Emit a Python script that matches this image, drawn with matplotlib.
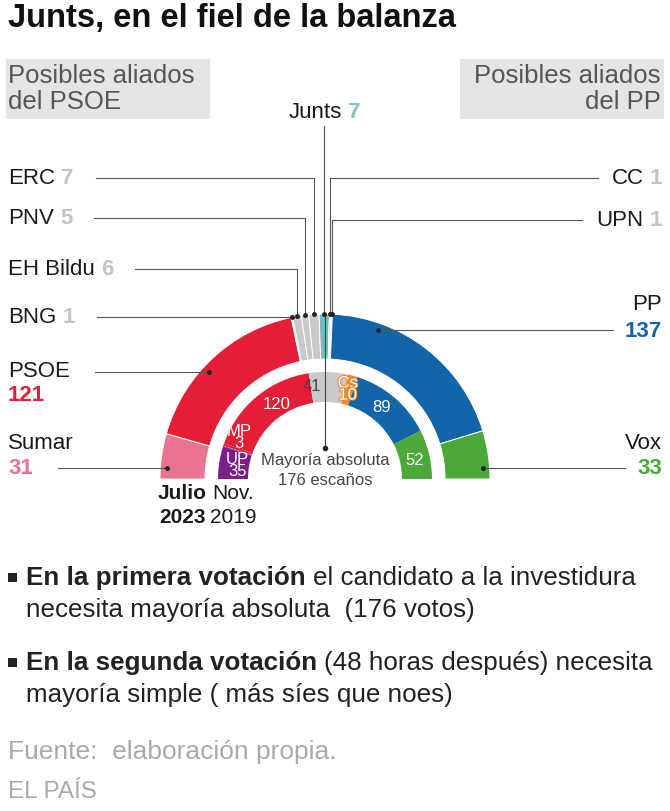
import numpy as np
import matplotlib.pyplot as plt
from matplotlib.patches import Wedge, Rectangle
import matplotlib.patheffects as pe

plt.rcParams['font.family'] = ['Liberation Sans', 'DejaVu Sans']

# Datos: resultados en escaños
partidos_2023 = ['Sumar', 'PSOE', 'BNG', 'EH Bildu', 'PNV', 'ERC', 'Junts', 'CC', 'UPN', 'PP', 'Vox']
escanos_2023 = [31, 121, 1, 6, 5, 7, 7, 1, 1, 137, 33]
colores_2023 = ['#EA7391', '#E31E36', '#C9C9C9', '#C9C9C9', '#C9C9C9', '#C9C9C9',
                '#6CBFBD', '#C9C9C9', '#C9C9C9', '#1464AA', '#4DA83A']

partidos_2019 = ['UP', 'MP', 'PSOE', 'Otros', 'Cs', 'PP', 'Vox']
escanos_2019 = [35, 3, 120, 41, 10, 89, 52]
colores_2019 = ['#7A1F8A', '#E31E36', '#E31E36', '#C9C9C9', '#EE8A2A', '#1464AA', '#4DA83A']
etiquetas_2019 = ['UP\n35', 'MP\n3', '120', '41', 'Cs\n10', '89', '52']

TOTAL = 350
MAYORIA = 176

W, H = 670, 812
CX, CY = 325, 480
R_EXT = (120, 165)
R_INT = (77, 107)

fig = plt.figure(figsize=(6.7, 8.12), dpi=100)
ax = fig.add_axes([0, 0, 1, 1])
ax.set_xlim(0, W)
ax.set_ylim(H, 0)
ax.axis('off')
renderer = fig.canvas.get_renderer()


def angulo(cum):
    return 180.0 * (1 - cum / TOTAL)


def punto(cum, r):
    a = np.radians(angulo(cum))
    return CX + r * np.cos(a), CY - r * np.sin(a)


def anillo(escanos, colores, radios, lw=0.0):
    cum = np.concatenate([[0], np.cumsum(escanos)])
    for i, c in enumerate(colores):
        a1, a2 = angulo(cum[i + 1]), angulo(cum[i])
        ax.add_patch(Wedge((CX, CY), radios[1], -a2, -a1, width=radios[1] - radios[0],
                           facecolor=c, edgecolor='white', linewidth=lw))
    return cum


def ancho(s, size, weight='normal'):
    t = ax.text(0, 0, s, size=size, weight=weight)
    w = t.get_window_extent(renderer).width
    t.remove()
    return w


def texto(x, y, runs, size, ha='left', va='center'):
    # runs: lista de (texto, peso, color)
    anchos = [ancho(s, size, wt) for s, wt, c in runs]
    hueco = ancho('a a', size) - ancho('aa', size)
    total = sum(anchos) + hueco * (len(runs) - 1)
    if ha == 'right':
        x -= total
    elif ha == 'center':
        x -= total / 2
    x0 = x
    for (s, wt, c), w in zip(runs, anchos):
        ax.text(x, y, s, size=size, weight=wt, color=c, ha='left', va=va)
        x += w + hueco
    return x0, x - hueco


# anillos
cum23 = anillo(escanos_2023, colores_2023, R_EXT, lw=0.7)
cum19 = anillo(escanos_2019, colores_2019, R_INT, lw=0.0)

# separador punteado UP / MP
a = np.radians(angulo(cum19[1]))
ax.plot([CX + R_INT[0] * np.cos(a), CX + R_INT[1] * np.cos(a)],
        [CY - R_INT[0] * np.sin(a), CY - R_INT[1] * np.sin(a)],
        color='#7fa3c8', lw=1.2, ls=(0, (1, 1)))

# etiquetas del anillo interior
ajustes = [(3, 0), (1, -13), (10, -5), (-16, -2), (-1, -1), (-3, -2), (0, 2)]
for i, lab in enumerate(etiquetas_2019):
    x, y = punto((cum19[i] + cum19[i + 1]) / 2, sum(R_INT) / 2)
    dx, dy = ajustes[i]
    col = '#444444' if partidos_2019[i] == 'Otros' else 'white'
    t = ax.text(x + dx, y + dy, lab, size=12, color=col, ha='center', va='center',
                linespacing=0.75)
    if partidos_2019[i] == 'Cs':
        t.set_path_effects([pe.withStroke(linewidth=1.5, foreground='#EE8A2A')])

# línea de mayoría absoluta
x1, y1 = punto(TOTAL / 2, R_EXT[1])
x2, y2 = punto(TOTAL / 2, 31)
ax.plot([x1, x2], [y1, y2], color='#444444', lw=0.8)
ax.plot([x2], [y2], 'o', color='#222222', ms=3)
ax.text(CX, 461, 'Mayoría absoluta', size=12, color='#444444', ha='center', va='center')
ax.text(CX, 481, f'{MAYORIA} escaños', size=12, color='#444444', ha='center', va='center')

# leyendas de los partidos pequeños
GRIS = '#C4C4C4'
LINEA = '#555555'
FS = 16
pequenos = {
    'ERC': ('left', 179, GRIS),
    'PNV': ('left', 219, GRIS),
    'EH Bildu': ('left', 270, GRIS),
    'BNG': ('left', 318, GRIS),
    'CC': ('right', 179, GRIS),
    'UPN': ('right', 221, GRIS),
}
for i, p in enumerate(partidos_2023):
    if p not in pequenos:
        continue
    lado, y, col = pequenos[p]
    xd, yd = punto((cum23[i] + cum23[i + 1]) / 2, R_EXT[1])
    if lado == 'left':
        _, xe = texto(8, y, [(p, 'normal', '#1a1a1a'), (str(escanos_2023[i]), 'bold', col)], FS)
        xs = xe + 22
    else:
        xb, _ = texto(662, y, [(p, 'normal', '#1a1a1a'), (str(escanos_2023[i]), 'bold', col)], FS,
                      ha='right')
        xs = xb - 14
    ax.plot([xs, xd, xd], [y, y, yd], color=LINEA, lw=0.8)
    ax.plot([xd], [yd], 'o', color='#222222', ms=2.5)

# Junts
i = partidos_2023.index('Junts')
xd, yd = punto((cum23[i] + cum23[i + 1]) / 2, R_EXT[1])
texto(xd, 112, [('Junts', 'normal', '#1a1a1a'), (str(escanos_2023[i]), 'bold', '#7CC4C2')], FS,
      ha='center')
ax.plot([xd, xd], [127, yd], color=LINEA, lw=0.8)
ax.plot([xd], [yd], 'o', color='#222222', ms=2.5)

# partidos grandes: (lado, y nombre, y escaños, y línea, la línea sale del nombre?)
grandes = {
    'PSOE': ('left', 372, 396, 373, True),
    'Sumar': ('left', 444, 469, 469, False),
    'PP': ('right', 305, 332, 331, False),
    'Vox': ('right', 444, 469, 469, False),
}
for i, p in enumerate(partidos_2023):
    if p not in grandes:
        continue
    lado, yn, yv, yl, del_nombre = grandes[p]
    col = colores_2023[i]
    num = str(escanos_2023[i])
    w = ancho(p, FS) if del_nombre else ancho(num, FS, 'bold')
    r = 158
    dx = np.sqrt(r ** 2 - (CY - yl) ** 2)
    if lado == 'left':
        ax.text(8, yn, p, size=FS, color='#1a1a1a', ha='left', va='center')
        ax.text(8, yv, num, size=FS, weight='bold', color=col, ha='left', va='center')
        xs = 8 + w + 25
        xd = CX - dx
    else:
        ax.text(662, yn, p, size=FS, color='#1a1a1a', ha='right', va='center')
        ax.text(662, yv, num, size=FS, weight='bold', color=col, ha='right', va='center')
        xs = 662 - w - 12
        xd = CX + dx
    ax.plot([xs, xd], [yl, yl], color=LINEA, lw=0.8)
    ax.plot([xd], [yl], 'o', color='#222222', ms=2.5)

# fechas de cada anillo
xj = CX - sum(R_EXT) / 2
xn = CX - sum(R_INT) / 2
ax.text(xj, 494, 'Julio', size=15, weight='bold', color='#1a1a1a', ha='center', va='center')
ax.text(xj, 518, '2023', size=15, weight='bold', color='#1a1a1a', ha='center', va='center')
ax.text(xn, 494, 'Nov.', size=15, color='#1a1a1a', ha='center', va='center')
ax.text(xn, 518, '2019', size=15, color='#1a1a1a', ha='center', va='center')

# cajas de aliados
ax.add_patch(Rectangle((6, 60), 204, 60, facecolor='#E5E5E5', edgecolor='none'))
ax.add_patch(Rectangle((460, 60), 204, 60, facecolor='#E5E5E5', edgecolor='none'))
ax.text(8, 76, 'Posibles aliados', size=18.5, color='#555555', ha='left', va='center')
ax.text(8, 102, 'del PSOE', size=18.5, color='#555555', ha='left', va='center')
ax.text(661, 76, 'Posibles aliados', size=18.5, color='#555555', ha='right', va='center')
ax.text(661, 102, 'del PP', size=18.5, color='#555555', ha='right', va='center')

# título
ax.text(8, 18, 'Junts, en el fiel de la balanza', size=23.5, weight='bold', color='#111111',
        ha='left', va='center')

# explicación
CUERPO = '#222222'
FB = 18.7
for yb in (578, 663):
    ax.add_patch(Rectangle((8, yb - 4), 9, 9, facecolor='#222222', edgecolor='none'))
texto(26, 578, [('En la primera votación', 'bold', CUERPO),
                ('el candidato a la investidura', 'normal', CUERPO)], FB)
ax.text(26, 610, 'necesita mayoría absoluta  (176 votos)', size=FB, color=CUERPO, va='center')
texto(26, 663, [('En la segunda votación', 'bold', CUERPO),
                ('(48 horas después) necesita', 'normal', CUERPO)], FB)
ax.text(26, 695, 'mayoría simple ( más síes que noes)', size=FB, color=CUERPO, va='center')

# fuente
ax.text(8, 752, 'Fuente:  elaboración propia.', size=19, color='#AAAAAA', va='center')
ax.text(8, 792, 'EL PAÍS', size=17.5, color='#AAAAAA', va='center')

fig.savefig('out.png', dpi=100)
